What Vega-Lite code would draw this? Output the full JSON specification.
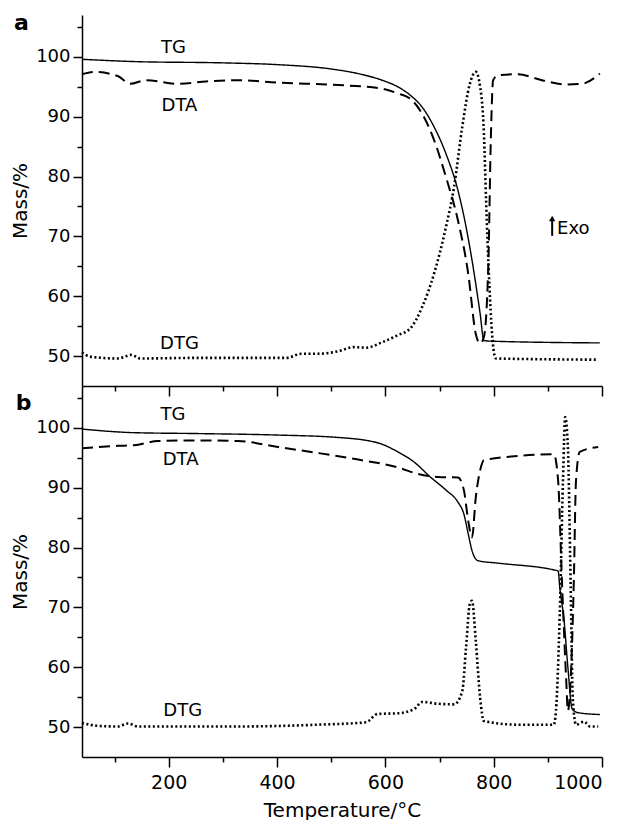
{
  "$schema": "https://vega.github.io/schema/vega-lite/v6.json",
  "padding": {"left": 10, "top": 11, "right": 0, "bottom": 0},
  "background": "white",
  "bounds": "flush",
  "config": {
    "view": {"stroke": null},
    "font": "DejaVu Sans",
    "axis": {
      "domainColor": "black", "tickColor": "black", "labelColor": "black", "titleColor": "black",
      "domainWidth": 1.5, "tickWidth": 1.5, "grid": false,
      "labelFont": "DejaVu Sans", "titleFont": "DejaVu Sans",
      "labelFontSize": 18, "titleFontSize": 20, "titleFontWeight": "normal"
    }
  },
  "datasets": {
    "curves": [
      {"p":"a","s":"TG","t":40,"v":99.6},{"p":"a","s":"TG","t":143,"v":99.2},{"p":"a","s":"TG","t":300,"v":99.0},{"p":"a","s":"TG","t":402,"v":98.7},{"p":"a","s":"TG","t":498,"v":98.0},{"p":"a","s":"TG","t":550,"v":97.2},{"p":"a","s":"TG","t":594,"v":96.1},{"p":"a","s":"TG","t":623,"v":95.0},{"p":"a","s":"TG","t":646,"v":93.6},{"p":"a","s":"TG","t":668,"v":91.6},{"p":"a","s":"TG","t":690,"v":88.3},{"p":"a","s":"TG","t":712,"v":83.8},{"p":"a","s":"TG","t":734,"v":77.7},{"p":"a","s":"TG","t":749,"v":71.6},{"p":"a","s":"TG","t":764,"v":63.8},{"p":"a","s":"TG","t":775,"v":57.1},{"p":"a","s":"TG","t":782,"v":52.6},{"p":"a","s":"TG","t":793,"v":52.5},{"p":"a","s":"TG","t":996,"v":52.2},
      {"p":"a","s":"DTA","t":40,"v":97.1},{"p":"a","s":"DTA","t":62,"v":97.5},{"p":"a","s":"DTA","t":106,"v":96.8},{"p":"a","s":"DTA","t":129,"v":95.5},{"p":"a","s":"DTA","t":158,"v":96.1},{"p":"a","s":"DTA","t":217,"v":95.5},{"p":"a","s":"DTA","t":269,"v":95.9},{"p":"a","s":"DTA","t":328,"v":96.1},{"p":"a","s":"DTA","t":402,"v":95.7},{"p":"a","s":"DTA","t":513,"v":95.3},{"p":"a","s":"DTA","t":594,"v":94.7},{"p":"a","s":"DTA","t":623,"v":93.9},{"p":"a","s":"DTA","t":646,"v":93.0},{"p":"a","s":"DTA","t":668,"v":90.5},{"p":"a","s":"DTA","t":690,"v":86.1},{"p":"a","s":"DTA","t":712,"v":79.9},{"p":"a","s":"DTA","t":734,"v":72.7},{"p":"a","s":"DTA","t":753,"v":63.8},{"p":"a","s":"DTA","t":767,"v":53.7},{"p":"a","s":"DTA","t":775,"v":52.1},{"p":"a","s":"DTA","t":782,"v":53.2},{"p":"a","s":"DTA","t":790,"v":64.9},{"p":"a","s":"DTA","t":795,"v":87.2},{"p":"a","s":"DTA","t":799,"v":96.1},{"p":"a","s":"DTA","t":808,"v":96.9},{"p":"a","s":"DTA","t":845,"v":97.1},{"p":"a","s":"DTA","t":889,"v":96.1},{"p":"a","s":"DTA","t":934,"v":95.4},{"p":"a","s":"DTA","t":963,"v":95.5},{"p":"a","s":"DTA","t":996,"v":97.2},
      {"p":"a","s":"DTG","t":40,"v":50.6},{"p":"a","s":"DTG","t":55,"v":49.9},{"p":"a","s":"DTG","t":106,"v":49.6},{"p":"a","s":"DTG","t":122,"v":50.0},{"p":"a","s":"DTG","t":129,"v":50.2},{"p":"a","s":"DTG","t":140,"v":49.9},{"p":"a","s":"DTG","t":147,"v":49.6},{"p":"a","s":"DTG","t":254,"v":49.7},{"p":"a","s":"DTG","t":417,"v":49.7},{"p":"a","s":"DTG","t":446,"v":50.4},{"p":"a","s":"DTG","t":476,"v":50.4},{"p":"a","s":"DTG","t":513,"v":50.8},{"p":"a","s":"DTG","t":542,"v":51.5},{"p":"a","s":"DTG","t":564,"v":51.4},{"p":"a","s":"DTG","t":594,"v":52.3},{"p":"a","s":"DTG","t":623,"v":53.5},{"p":"a","s":"DTG","t":646,"v":54.6},{"p":"a","s":"DTG","t":668,"v":58.2},{"p":"a","s":"DTG","t":690,"v":63.8},{"p":"a","s":"DTG","t":712,"v":71.6},{"p":"a","s":"DTG","t":727,"v":78.3},{"p":"a","s":"DTG","t":742,"v":88.3},{"p":"a","s":"DTG","t":756,"v":95.5},{"p":"a","s":"DTG","t":767,"v":97.5},{"p":"a","s":"DTG","t":775,"v":95.0},{"p":"a","s":"DTG","t":782,"v":87.2},{"p":"a","s":"DTG","t":786,"v":76.0},{"p":"a","s":"DTG","t":792,"v":62.1},{"p":"a","s":"DTG","t":797,"v":53.7},{"p":"a","s":"DTG","t":804,"v":49.6},{"p":"a","s":"DTG","t":993,"v":49.4},
      {"p":"b","s":"TG","t":40,"v":99.8},{"p":"b","s":"TG","t":136,"v":99.2},{"p":"b","s":"TG","t":254,"v":99.05},{"p":"b","s":"TG","t":402,"v":98.8},{"p":"b","s":"TG","t":513,"v":98.4},{"p":"b","s":"TG","t":586,"v":97.5},{"p":"b","s":"TG","t":623,"v":96.0},{"p":"b","s":"TG","t":653,"v":94.3},{"p":"b","s":"TG","t":683,"v":91.8},{"p":"b","s":"TG","t":712,"v":89.6},{"p":"b","s":"TG","t":734,"v":87.6},{"p":"b","s":"TG","t":745,"v":85.6},{"p":"b","s":"TG","t":753,"v":82.3},{"p":"b","s":"TG","t":760,"v":79.5},{"p":"b","s":"TG","t":771,"v":77.8},{"p":"b","s":"TG","t":808,"v":77.4},{"p":"b","s":"TG","t":919,"v":76.1},{"p":"b","s":"TG","t":922,"v":73.4},{"p":"b","s":"TG","t":930,"v":67.8},{"p":"b","s":"TG","t":937,"v":60.0},{"p":"b","s":"TG","t":945,"v":53.0},{"p":"b","s":"TG","t":956,"v":52.4},{"p":"b","s":"TG","t":996,"v":52.1},
      {"p":"b","s":"DTA","t":40,"v":96.6},{"p":"b","s":"DTA","t":106,"v":97.0},{"p":"b","s":"DTA","t":136,"v":97.1},{"p":"b","s":"DTA","t":180,"v":97.8},{"p":"b","s":"DTA","t":254,"v":97.9},{"p":"b","s":"DTA","t":328,"v":97.8},{"p":"b","s":"DTA","t":402,"v":96.8},{"p":"b","s":"DTA","t":476,"v":95.8},{"p":"b","s":"DTA","t":550,"v":94.7},{"p":"b","s":"DTA","t":623,"v":93.4},{"p":"b","s":"DTA","t":660,"v":92.3},{"p":"b","s":"DTA","t":697,"v":91.8},{"p":"b","s":"DTA","t":734,"v":91.7},{"p":"b","s":"DTA","t":745,"v":89.6},{"p":"b","s":"DTA","t":753,"v":84.5},{"p":"b","s":"DTA","t":760,"v":81.7},{"p":"b","s":"DTA","t":767,"v":88.4},{"p":"b","s":"DTA","t":775,"v":92.9},{"p":"b","s":"DTA","t":782,"v":94.6},{"p":"b","s":"DTA","t":845,"v":95.3},{"p":"b","s":"DTA","t":911,"v":95.6},{"p":"b","s":"DTA","t":919,"v":91.2},{"p":"b","s":"DTA","t":926,"v":74.5},{"p":"b","s":"DTA","t":934,"v":57.7},{"p":"b","s":"DTA","t":937,"v":52.7},{"p":"b","s":"DTA","t":942,"v":57.7},{"p":"b","s":"DTA","t":948,"v":74.5},{"p":"b","s":"DTA","t":952,"v":91.2},{"p":"b","s":"DTA","t":959,"v":96.0},{"p":"b","s":"DTA","t":993,"v":96.8},
      {"p":"b","s":"DTG","t":40,"v":50.7},{"p":"b","s":"DTG","t":70,"v":50.2},{"p":"b","s":"DTG","t":106,"v":50.1},{"p":"b","s":"DTG","t":125,"v":50.6},{"p":"b","s":"DTG","t":143,"v":50.1},{"p":"b","s":"DTG","t":328,"v":50.1},{"p":"b","s":"DTG","t":476,"v":50.4},{"p":"b","s":"DTG","t":564,"v":50.8},{"p":"b","s":"DTG","t":586,"v":52.2},{"p":"b","s":"DTG","t":623,"v":52.3},{"p":"b","s":"DTG","t":653,"v":53.0},{"p":"b","s":"DTG","t":668,"v":54.2},{"p":"b","s":"DTG","t":697,"v":53.9},{"p":"b","s":"DTG","t":727,"v":53.8},{"p":"b","s":"DTG","t":742,"v":56.0},{"p":"b","s":"DTG","t":749,"v":63.3},{"p":"b","s":"DTG","t":756,"v":70.6},{"p":"b","s":"DTG","t":760,"v":71.1},{"p":"b","s":"DTG","t":767,"v":64.4},{"p":"b","s":"DTG","t":775,"v":54.9},{"p":"b","s":"DTG","t":782,"v":51.0},{"p":"b","s":"DTG","t":845,"v":50.4},{"p":"b","s":"DTG","t":911,"v":50.4},{"p":"b","s":"DTG","t":915,"v":52.7},{"p":"b","s":"DTG","t":922,"v":68.9},{"p":"b","s":"DTG","t":928,"v":91.2},{"p":"b","s":"DTG","t":932,"v":101.8},{"p":"b","s":"DTG","t":937,"v":96.8},{"p":"b","s":"DTG","t":942,"v":74.5},{"p":"b","s":"DTG","t":946,"v":54.9},{"p":"b","s":"DTG","t":952,"v":50.4},{"p":"b","s":"DTG","t":967,"v":50.9},{"p":"b","s":"DTG","t":978,"v":50.1},{"p":"b","s":"DTG","t":993,"v":50.1}
    ],
    "notes": [
      {"p":"a","label":"TG","t":209,"v":101.5},{"p":"a","label":"DTA","t":220,"v":91.8},{"p":"a","label":"DTG","t":220,"v":52.1},
      {"p":"b","label":"TG","t":208,"v":102.1},{"p":"b","label":"DTA","t":222,"v":94.6},{"p":"b","label":"DTG","t":226,"v":52.7}
    ],
    "exo": [{"p":"a","label":"Exo","t":917,"v":71.3}],
    "arrow": [{"p":"a","t":908,"v":70.1,"v2":73.0}],
    "letters": [{"p":"a","label":"a","t":-72,"v":105.7},{"p":"b","label":"b","t":-68,"v":104.1}]
  },
  "spacing": 0,
  "vconcat": [
    {
      "width": 520, "height": 371,
      "encoding": {
        "x": {"field": "t", "type": "quantitative", "scale": {"domain": [40, 1000], "nice": false, "zero": false},
              "axis": {"values": [100,200,300,400,500,600,700,800,900,1000], "labels": false, "title": null,
                       "tickSize": {"condition": {"test": "datum.value % 200 === 0", "value": 10}, "value": 5}}},
        "y": {"field": "v", "type": "quantitative", "scale": {"domain": [45, 107], "nice": false, "zero": false},
              "axis": {"values": [50,55,60,65,70,75,80,85,90,95,100,105], "format": "d", "title": "Mass/%", "titlePadding": 5, "labelPadding": 3,
                       "labelExpr": "datum.value % 10 === 0 ? datum.label : ''",
                       "tickSize": {"condition": {"test": "datum.value % 10 === 0", "value": 9}, "value": 5}}}
      },
      "layer": [
        {"data": {"name": "curves"}, "transform": [{"filter": "datum.p === 'a'"}],
         "mark": {"type": "line", "color": "black", "interpolate": "monotone"},
         "encoding": {
           "strokeDash": {"field": "s", "type": "nominal", "scale": {"domain": ["TG","DTA","DTG"], "range": [[1,0],[11,6],[2,2.5]]}, "legend": null},
           "strokeWidth": {"field": "s", "type": "ordinal", "scale": {"domain": ["TG","DTA","DTG"], "range": [1.4,2.6,2]}, "legend": null}
         }},
        {"data": {"name": "notes"}, "transform": [{"filter": "datum.p === 'a'"}],
         "mark": {"type": "text", "fontSize": 18, "color": "black", "align": "center", "baseline": "middle"},
         "encoding": {"text": {"field": "label"}}},
        {"data": {"name": "exo"},
         "mark": {"type": "text", "fontSize": 18, "color": "black", "align": "left", "baseline": "middle"},
         "encoding": {"text": {"field": "label"}}},
        {"data": {"name": "arrow"},
         "mark": {"type": "rule", "color": "black", "strokeWidth": 2},
         "encoding": {"y2": {"field": "v2"}}},
        {"data": {"name": "arrow"},
         "mark": {"type": "point", "shape": "triangle-up", "filled": true, "color": "black", "size": 40, "opacity": 1},
         "encoding": {"y": {"field": "v2", "type": "quantitative"}}},
        {"data": {"name": "letters"}, "transform": [{"filter": "datum.p === 'a'"}],
         "mark": {"type": "text", "fontSize": 22, "fontWeight": "bold", "color": "black", "align": "center", "baseline": "middle"},
         "encoding": {"text": {"field": "label"}}}
      ]
    },
    {
      "width": 520, "height": 371,
      "encoding": {
        "x": {"field": "t", "type": "quantitative", "scale": {"domain": [40, 1000], "nice": false, "zero": false},
              "axis": {"values": [100,200,300,400,500,600,700,800,900,1000], "format": "d", "title": "Temperature/°C", "labelPadding": 6, "titlePadding": 8, "labelFontSize": 19,
                       "labelExpr": "datum.value % 200 === 0 ? datum.label : ''",
                       "tickSize": {"condition": {"test": "datum.value % 200 === 0", "value": 10}, "value": 5}}},
        "y": {"field": "v", "type": "quantitative", "scale": {"domain": [45, 107], "nice": false, "zero": false},
              "axis": {"values": [50,55,60,65,70,75,80,85,90,95,100,105], "format": "d", "title": "Mass/%", "titlePadding": 5, "labelPadding": 3,
                       "labelExpr": "datum.value % 10 === 0 ? datum.label : ''",
                       "tickSize": {"condition": {"test": "datum.value % 10 === 0", "value": 9}, "value": 5}}}
      },
      "layer": [
        {"data": {"name": "curves"}, "transform": [{"filter": "datum.p === 'b'"}],
         "mark": {"type": "line", "color": "black", "interpolate": "monotone"},
         "encoding": {
           "strokeDash": {"field": "s", "type": "nominal", "scale": {"domain": ["TG","DTA","DTG"], "range": [[1,0],[11,6],[2,2.5]]}, "legend": null},
           "strokeWidth": {"field": "s", "type": "ordinal", "scale": {"domain": ["TG","DTA","DTG"], "range": [1.4,2.6,2]}, "legend": null}
         }},
        {"data": {"name": "notes"}, "transform": [{"filter": "datum.p === 'b'"}],
         "mark": {"type": "text", "fontSize": 18, "color": "black", "align": "center", "baseline": "middle"},
         "encoding": {"text": {"field": "label"}}},
        {"data": {"name": "letters"}, "transform": [{"filter": "datum.p === 'b'"}],
         "mark": {"type": "text", "fontSize": 22, "fontWeight": "bold", "color": "black", "align": "center", "baseline": "middle"},
         "encoding": {"text": {"field": "label"}}}
      ]
    }
  ]
}
